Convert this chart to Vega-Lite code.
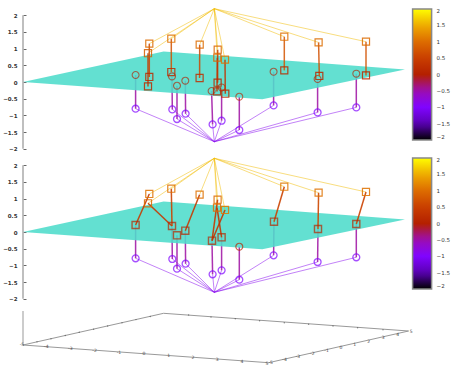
{"$schema":"https://vega.github.io/schema/vega-lite/v6.json","background":"white","padding":{"left":2,"top":7,"right":0,"bottom":0},"spacing":0,"resolve":{"scale":{"color":"independent"},"legend":{"color":"independent"}},"config":{"view":{"stroke":null},"axis":{"labelFont":"DejaVu Sans"},"legend":{"labelFont":"DejaVu Sans"}},
"datasets":{
"mesh":[{"x":22.7,"hi":0,"lo":0},{"x":163.3,"hi":0.916,"lo":-0.306},{"x":262,"hi":0.696,"lo":-0.52},{"x":404.7,"hi":0.377,"lo":0.377}],
"top":[
{"kind":"axis","x":22.7,"y":2,"x2":22.7,"y2":-2,"c":0},
{"kind":"apexT","x":214,"y":2.195,"x2":149,"y2":1.147,"c":1.6},{"kind":"apexT","x":214,"y":2.195,"x2":147.7,"y2":0.862,"c":1.6},{"kind":"apexT","x":214,"y":2.195,"x2":171,"y2":1.296,"c":1.6},{"kind":"apexT","x":214,"y":2.195,"x2":199.4,"y2":1.117,"c":1.6},{"kind":"apexT","x":214,"y":2.195,"x2":217.4,"y2":0.967,"c":1.6},{"kind":"apexT","x":214,"y":2.195,"x2":217,"y2":0.728,"c":1.6},{"kind":"apexT","x":214,"y":2.195,"x2":224.7,"y2":0.668,"c":1.6},{"kind":"apexT","x":214,"y":2.195,"x2":284,"y2":1.356,"c":1.6},{"kind":"apexT","x":214,"y":2.195,"x2":318.3,"y2":1.186,"c":1.6},{"kind":"apexT","x":214,"y":2.195,"x2":365.7,"y2":1.207,"c":1.6},
{"kind":"apexB","x":214,"y":-1.787,"x2":135.3,"y2":-0.799,"c":-0.9},{"kind":"apexB","x":214,"y":-1.787,"x2":172,"y2":-0.82,"c":-0.9},{"kind":"apexB","x":214,"y":-1.787,"x2":176.7,"y2":-1.108,"c":-0.9},{"kind":"apexB","x":214,"y":-1.787,"x2":185.3,"y2":-0.949,"c":-0.9},{"kind":"apexB","x":214,"y":-1.787,"x2":212.3,"y2":-1.269,"c":-0.9},{"kind":"apexB","x":214,"y":-1.787,"x2":221.3,"y2":-1.159,"c":-0.9},{"kind":"apexB","x":214,"y":-1.787,"x2":239,"y2":-1.437,"c":-0.9},{"kind":"apexB","x":214,"y":-1.787,"x2":273.3,"y2":-0.701,"c":-0.9},{"kind":"apexB","x":214,"y":-1.787,"x2":317.3,"y2":-0.91,"c":-0.9},{"kind":"apexB","x":214,"y":-1.787,"x2":356,"y2":-0.76,"c":-0.9},
{"kind":"stemU","x":149,"y":1.147,"x2":149,"y2":0.15,"c":0.55},{"kind":"stemU","x":147.7,"y":0.862,"x2":147.7,"y2":-0.132,"c":0.4},{"kind":"stemU","x":171,"y":1.296,"x2":171,"y2":0.299,"c":0.7},{"kind":"stemU","x":199.4,"y":1.117,"x2":199.3,"y2":0.12,"c":0.6},{"kind":"stemU","x":217.4,"y":0.967,"x2":217.3,"y2":-0.021,"c":0.45},{"kind":"stemU","x":217,"y":0.728,"x2":216.7,"y2":-0.281,"c":0.3},{"kind":"stemU","x":224.7,"y":0.668,"x2":225,"y2":-0.35,"c":0.3},{"kind":"stemU","x":284,"y":1.356,"x2":284,"y2":0.347,"c":0.75},{"kind":"stemU","x":318.3,"y":1.186,"x2":319,"y2":0.18,"c":0.7},{"kind":"stemU","x":365.7,"y":1.207,"x2":365.7,"y2":0.198,"c":0.7},
{"kind":"stemL","x":135.3,"y":0.21,"x2":135.3,"y2":-0.799,"c":-0.45},{"kind":"stemL","x":171.7,"y":0.168,"x2":172,"y2":-0.82,"c":-0.45},{"kind":"stemL","x":176.7,"y":-0.111,"x2":176.7,"y2":-1.108,"c":-0.45},{"kind":"stemL","x":185,"y":0.039,"x2":185.3,"y2":-0.949,"c":-0.45},{"kind":"stemL","x":211.3,"y":-0.269,"x2":212.3,"y2":-1.269,"c":-0.45},{"kind":"stemL","x":221.3,"y":-0.162,"x2":221.3,"y2":-1.159,"c":-0.45},{"kind":"stemL","x":239,"y":-0.44,"x2":239,"y2":-1.437,"c":-0.45},{"kind":"stemL","x":273.3,"y":0.308,"x2":273.3,"y2":-0.701,"c":-0.45},{"kind":"stemL","x":317.3,"y":0.09,"x2":317.3,"y2":-0.91,"c":-0.45},{"kind":"stemL","x":356,"y":0.249,"x2":356,"y2":-0.76,"c":-0.45},
{"kind":"sqU","x":149,"y":1.147,"c":1},{"kind":"sqU","x":147.7,"y":0.862,"c":0.85},{"kind":"sqU","x":171,"y":1.296,"c":1.05},{"kind":"sqU","x":199.4,"y":1.117,"c":1},{"kind":"sqU","x":217.4,"y":0.967,"c":0.95},{"kind":"sqU","x":217,"y":0.728,"c":0.95},{"kind":"sqU","x":224.7,"y":0.668,"c":1.05},{"kind":"sqU","x":284,"y":1.356,"c":1.05},{"kind":"sqU","x":318.3,"y":1.186,"c":1},{"kind":"sqU","x":365.7,"y":1.207,"c":1},
{"kind":"sqL","x":149,"y":0.15,"c":0.2},{"kind":"sqL","x":147.7,"y":-0.132,"c":0.2},{"kind":"sqL","x":171,"y":0.299,"c":0.2},{"kind":"sqL","x":199.3,"y":0.12,"c":0.25},{"kind":"sqL","x":217.3,"y":-0.021,"c":0.15},{"kind":"sqL","x":216.7,"y":-0.281,"c":0.15},{"kind":"sqL","x":225,"y":-0.35,"c":0.2},{"kind":"sqL","x":284,"y":0.347,"c":0.2},{"kind":"sqL","x":319,"y":0.18,"c":0.15},{"kind":"sqL","x":365.7,"y":0.198,"c":0.15},
{"kind":"circU","x":135.3,"y":0.21,"c":0},{"kind":"circU","x":171.7,"y":0.168,"c":0},{"kind":"circU","x":176.7,"y":-0.111,"c":0},{"kind":"circU","x":185,"y":0.039,"c":0},{"kind":"circU","x":211.3,"y":-0.269,"c":0},{"kind":"circU","x":221.3,"y":-0.162,"c":0},{"kind":"circU","x":239,"y":-0.44,"c":0.1},{"kind":"circU","x":273.3,"y":0.308,"c":0},{"kind":"circU","x":317.3,"y":0.09,"c":0},{"kind":"circU","x":356,"y":0.249,"c":0},
{"kind":"circL","x":135.3,"y":-0.799,"c":-1},{"kind":"circL","x":172,"y":-0.82,"c":-1},{"kind":"circL","x":176.7,"y":-1.108,"c":-1},{"kind":"circL","x":185.3,"y":-0.949,"c":-1},{"kind":"circL","x":212.3,"y":-1.269,"c":-1},{"kind":"circL","x":221.3,"y":-1.159,"c":-1},{"kind":"circL","x":239,"y":-1.437,"c":-1},{"kind":"circL","x":273.3,"y":-0.701,"c":-1},{"kind":"circL","x":317.3,"y":-0.91,"c":-1},{"kind":"circL","x":356,"y":-0.76,"c":-1}
],
"bottom":[
{"kind":"axis","x":22.7,"y":2,"x2":22.7,"y2":-2,"c":0},
{"kind":"apexT","x":214,"y":2.207,"x2":149,"y2":1.138,"c":1.6},{"kind":"apexT","x":214,"y":2.207,"x2":147.7,"y2":0.859,"c":1.6},{"kind":"apexT","x":214,"y":2.207,"x2":171,"y2":1.296,"c":1.6},{"kind":"apexT","x":214,"y":2.207,"x2":199.3,"y2":1.117,"c":1.6},{"kind":"apexT","x":214,"y":2.207,"x2":217.3,"y2":0.967,"c":1.6},{"kind":"apexT","x":214,"y":2.207,"x2":216.7,"y2":0.728,"c":1.6},{"kind":"apexT","x":214,"y":2.207,"x2":224.7,"y2":0.659,"c":1.6},{"kind":"apexT","x":214,"y":2.207,"x2":284,"y2":1.356,"c":1.6},{"kind":"apexT","x":214,"y":2.207,"x2":318.3,"y2":1.177,"c":1.6},{"kind":"apexT","x":214,"y":2.207,"x2":365.7,"y2":1.198,"c":1.6},
{"kind":"apexB","x":214,"y":-1.805,"x2":135.3,"y2":-0.787,"c":-0.9},{"kind":"apexB","x":214,"y":-1.805,"x2":172,"y2":-0.808,"c":-0.9},{"kind":"apexB","x":214,"y":-1.805,"x2":176.7,"y2":-1.099,"c":-0.9},{"kind":"apexB","x":214,"y":-1.805,"x2":185.3,"y2":-0.949,"c":-0.9},{"kind":"apexB","x":214,"y":-1.805,"x2":212.3,"y2":-1.266,"c":-0.9},{"kind":"apexB","x":214,"y":-1.805,"x2":221.3,"y2":-1.147,"c":-0.9},{"kind":"apexB","x":214,"y":-1.805,"x2":239,"y2":-1.428,"c":-0.9},{"kind":"apexB","x":214,"y":-1.805,"x2":273.3,"y2":-0.698,"c":-0.9},{"kind":"apexB","x":214,"y":-1.805,"x2":317.3,"y2":-0.898,"c":-0.9},{"kind":"apexB","x":214,"y":-1.805,"x2":356,"y2":-0.757,"c":-0.9},
{"kind":"stemU","x":149,"y":1.138,"x2":135.3,"y2":0.21,"c":0.45},{"kind":"stemU","x":147.7,"y":0.859,"x2":171.7,"y2":0.18,"c":0.4},{"kind":"stemU","x":171,"y":1.296,"x2":171.7,"y2":0.18,"c":0.55},{"kind":"stemU","x":199.3,"y":1.117,"x2":185,"y2":0.039,"c":0.45},{"kind":"stemU","x":217.3,"y":0.967,"x2":211.7,"y2":-0.26,"c":0.4},{"kind":"stemU","x":216.7,"y":0.728,"x2":221.3,"y2":-0.159,"c":0.35},{"kind":"stemU","x":224.7,"y":0.659,"x2":211.7,"y2":-0.26,"c":0.35},{"kind":"stemU","x":284,"y":1.356,"x2":273.7,"y2":0.308,"c":0.55},{"kind":"stemU","x":318.3,"y":1.177,"x2":317.7,"y2":0.09,"c":0.6},{"kind":"stemU","x":365.7,"y":1.198,"x2":356,"y2":0.24,"c":0.55},
{"kind":"stemL","x":135.3,"y":0.21,"x2":135.3,"y2":-0.787,"c":-0.45},{"kind":"stemL","x":171.7,"y":0.18,"x2":172,"y2":-0.808,"c":-0.45},{"kind":"stemL","x":176.7,"y":-0.099,"x2":176.7,"y2":-1.099,"c":-0.45},{"kind":"stemL","x":185,"y":0.039,"x2":185.3,"y2":-0.949,"c":-0.45},{"kind":"stemL","x":211.7,"y":-0.26,"x2":212.3,"y2":-1.266,"c":-0.45},{"kind":"stemL","x":221.3,"y":-0.159,"x2":221.3,"y2":-1.147,"c":-0.45},{"kind":"stemL","x":239,"y":-0.44,"x2":239,"y2":-1.428,"c":-0.45},{"kind":"stemL","x":273.7,"y":0.308,"x2":273.3,"y2":-0.698,"c":-0.45},{"kind":"stemL","x":317.7,"y":0.09,"x2":317.3,"y2":-0.898,"c":-0.45},{"kind":"stemL","x":356,"y":0.24,"x2":356,"y2":-0.757,"c":-0.45},
{"kind":"sqU","x":149,"y":1.138,"c":1.05},{"kind":"sqU","x":147.7,"y":0.859,"c":0.95},{"kind":"sqU","x":171,"y":1.296,"c":1.05},{"kind":"sqU","x":199.3,"y":1.117,"c":1.05},{"kind":"sqU","x":217.3,"y":0.967,"c":1},{"kind":"sqU","x":216.7,"y":0.728,"c":1},{"kind":"sqU","x":224.7,"y":0.659,"c":1.1},{"kind":"sqU","x":284,"y":1.356,"c":1.1},{"kind":"sqU","x":318.3,"y":1.177,"c":1.05},{"kind":"sqU","x":365.7,"y":1.198,"c":1.05},
{"kind":"sqL","x":135.3,"y":0.21,"c":0.1},{"kind":"sqL","x":171.7,"y":0.18,"c":0.1},{"kind":"sqL","x":176.7,"y":-0.099,"c":0.1},{"kind":"sqL","x":185,"y":0.039,"c":0.1},{"kind":"sqL","x":211.7,"y":-0.26,"c":0.1},{"kind":"sqL","x":221.3,"y":-0.159,"c":0.1},{"kind":"sqL","x":273.7,"y":0.308,"c":0.1},{"kind":"sqL","x":317.7,"y":0.09,"c":0.1},{"kind":"sqL","x":356,"y":0.24,"c":0.1},
{"kind":"circU","x":239,"y":-0.44,"c":0.1},
{"kind":"circL","x":135.3,"y":-0.787,"c":-1},{"kind":"circL","x":172,"y":-0.808,"c":-1},{"kind":"circL","x":176.7,"y":-1.099,"c":-1},{"kind":"circL","x":185.3,"y":-0.949,"c":-1},{"kind":"circL","x":212.3,"y":-1.266,"c":-1},{"kind":"circL","x":221.3,"y":-1.147,"c":-1},{"kind":"circL","x":239,"y":-1.428,"c":-1},{"kind":"circL","x":273.3,"y":-0.698,"c":-1},{"kind":"circL","x":317.3,"y":-0.898,"c":-1},{"kind":"circL","x":356,"y":-0.757,"c":-1}
],
"base":[
{"kind":"edge","x":22.7,"y":-2.365,"x2":22.7,"y2":-3.383},
{"kind":"edge","x":22.7,"y":-3.383,"x2":163.3,"y2":-2.434},{"kind":"edge","x":163.3,"y":-2.434,"x2":408.3,"y2":-2.964},{"kind":"edge","x":408.3,"y":-2.964,"x2":268.3,"y2":-3.913},{"kind":"edge","x":268.3,"y":-3.913,"x2":22.7,"y2":-3.383}
],
"baseTicks":[
{"x":36.7,"y":-3.287},{"x":50.7,"y":-3.194},{"x":65,"y":-3.099},{"x":79,"y":-3.003},{"x":93.3,"y":-2.91},{"x":107.3,"y":-2.814},{"x":121.7,"y":-2.719},{"x":135.7,"y":-2.623},{"x":150,"y":-2.53},
{"x":188.3,"y":-2.485},{"x":210.7,"y":-2.545},{"x":235,"y":-2.596},{"x":259.3,"y":-2.656},{"x":284,"y":-2.716},{"x":308.3,"y":-2.763},{"x":332.7,"y":-2.814},{"x":357.3,"y":-2.865},{"x":382.7,"y":-2.925}
],
"baseLabels":[
{"x":21.7,"y":-3.383,"t":"-5"},{"x":46,"y":-3.452,"t":"-4"},{"x":70,"y":-3.503,"t":"-3"},{"x":94.3,"y":-3.563,"t":"-2"},{"x":118.7,"y":-3.614,"t":"-1"},{"x":143.7,"y":-3.662,"t":"0"},{"x":168.3,"y":-3.722,"t":"1"},{"x":192.7,"y":-3.772,"t":"2"},{"x":217,"y":-3.832,"t":"3"},{"x":241.7,"y":-3.883,"t":"4"},{"x":266.7,"y":-3.943,"t":"5"},
{"x":270.3,"y":-3.931,"t":"-5"},{"x":284.3,"y":-3.832,"t":"-4"},{"x":297.7,"y":-3.733,"t":"-3"},{"x":312,"y":-3.644,"t":"-2"},{"x":326.3,"y":-3.554,"t":"-1"},{"x":340.7,"y":-3.464,"t":"0"},{"x":354.3,"y":-3.374,"t":"1"},{"x":368.3,"y":-3.284,"t":"2"},{"x":383,"y":-3.183,"t":"3"},{"x":397.3,"y":-3.084,"t":"4"},{"x":411,"y":-2.985,"t":"5"}
]
},
"vconcat":[
{"width":388,"height":150,"data":{"name":"top"},
"encoding":{"x":{"field":"x","type":"quantitative","scale":{"domain":[22.7,410.7]},"axis":null},"y":{"field":"y","type":"quantitative","scale":{"domain":[-2.245,2.245]},"axis":{"title":null,"domain":false,"grid":false,"values":[-2,-1.5,-1,-0.5,0,0.5,1,1.5,2],"format":"~g","tickSize":-3,"tickColor":"#666","labelFontSize":5.5,"labelFontWeight":"bold","labelColor":"#333","labelPadding":9}},"color":{"field":"c","type":"quantitative","scale":{"domain":[-2,2],"interpolate":"rgb","range":["#000000","#5a00b4","#8004ff","#9c0db4","#b42000","#c93e00","#dd6c00","#eeab00","#ffff00"]},"legend":{"title":null,"orient":"none","legendX":389.6,"legendY":2,"direction":"vertical","gradientLength":131,"gradientThickness":19,"gradientOpacity":1,"gradientStrokeColor":"#888","gradientStrokeWidth":1.5,"values":[-2,-1.5,-1,-0.5,0,0.5,1,1.5,2],"format":"~g","labelFontSize":5.5,"labelColor":"#333","labelOffset":5,"labelOpacity":1}}},
"layer":[
{"transform":[{"filter":"datum.kind=='axis'"}],"mark":{"type":"rule","strokeWidth":1.5,"color":"#aaaaaa"},"encoding":{"x2":{"field":"x2"},"y2":{"field":"y2"},"color":{"value":"#aaaaaa"}}},
{"transform":[{"filter":"datum.kind=='stemL'"}],"mark":{"type":"rule","strokeWidth":1.5,"opacity":0.85},"encoding":{"x2":{"field":"x2"},"y2":{"field":"y2"}}},
{"data":{"name":"mesh"},"mark":{"type":"area","orient":"vertical","opacity":0.88,"color":"#4ddccb"},"encoding":{"y":{"field":"hi","type":"quantitative"},"y2":{"field":"lo"},"color":{"value":"#4ddccb"}}},
{"transform":[{"filter":"datum.kind=='circU'"}],"mark":{"type":"point","shape":"circle","filled":false,"size":48,"strokeWidth":1.1,"opacity":0.65}},
{"transform":[{"filter":"datum.kind=='apexT'"}],"mark":{"type":"rule","strokeWidth":1,"opacity":0.5},"encoding":{"x2":{"field":"x2"},"y2":{"field":"y2"}}},
{"transform":[{"filter":"datum.kind=='apexB'"}],"mark":{"type":"rule","strokeWidth":1,"opacity":0.5},"encoding":{"x2":{"field":"x2"},"y2":{"field":"y2"}}},
{"transform":[{"filter":"datum.kind=='stemU'"}],"mark":{"type":"rule","strokeWidth":1.5,"opacity":0.85},"encoding":{"x2":{"field":"x2"},"y2":{"field":"y2"}}},
{"transform":[{"filter":"datum.kind=='sqU'"}],"mark":{"type":"point","shape":"square","filled":false,"size":50,"strokeWidth":1.2,"opacity":0.85}},
{"transform":[{"filter":"datum.kind=='sqL'"}],"mark":{"type":"point","shape":"square","filled":false,"size":50,"strokeWidth":1.2,"opacity":0.85}},
{"transform":[{"filter":"datum.kind=='circL'"}],"mark":{"type":"point","shape":"circle","filled":false,"size":48,"strokeWidth":1.3}}
]},
{"width":388,"height":150,"data":{"name":"bottom"},
"encoding":{"x":{"field":"x","type":"quantitative","scale":{"domain":[22.7,410.7]},"axis":null},"y":{"field":"y","type":"quantitative","scale":{"domain":[-2.245,2.245]},"axis":{"title":null,"domain":false,"grid":false,"values":[-2,-1.5,-1,-0.5,0,0.5,1,1.5,2],"format":"~g","tickSize":-3,"tickColor":"#666","labelFontSize":5.5,"labelFontWeight":"bold","labelColor":"#333","labelPadding":9}},"color":{"field":"c","type":"quantitative","scale":{"domain":[-2,2],"interpolate":"rgb","range":["#000000","#5a00b4","#8004ff","#9c0db4","#b42000","#c93e00","#dd6c00","#eeab00","#ffff00"]},"legend":{"title":null,"orient":"none","legendX":389.6,"legendY":1,"direction":"vertical","gradientLength":131,"gradientThickness":19,"gradientOpacity":1,"gradientStrokeColor":"#888","gradientStrokeWidth":1.5,"values":[-2,-1.5,-1,-0.5,0,0.5,1,1.5,2],"format":"~g","labelFontSize":5.5,"labelColor":"#333","labelOffset":5,"labelOpacity":1}}},
"layer":[
{"transform":[{"filter":"datum.kind=='axis'"}],"mark":{"type":"rule","strokeWidth":1.5,"color":"#aaaaaa"},"encoding":{"x2":{"field":"x2"},"y2":{"field":"y2"},"color":{"value":"#aaaaaa"}}},
{"transform":[{"filter":"datum.kind=='stemL'"}],"mark":{"type":"rule","strokeWidth":1.5,"opacity":0.85},"encoding":{"x2":{"field":"x2"},"y2":{"field":"y2"}}},
{"data":{"name":"mesh"},"mark":{"type":"area","orient":"vertical","opacity":0.88,"color":"#4ddccb"},"encoding":{"y":{"field":"hi","type":"quantitative"},"y2":{"field":"lo"},"color":{"value":"#4ddccb"}}},
{"transform":[{"filter":"datum.kind=='circU'"}],"mark":{"type":"point","shape":"circle","filled":false,"size":48,"strokeWidth":1.2}},
{"transform":[{"filter":"datum.kind=='apexT'"}],"mark":{"type":"rule","strokeWidth":1,"opacity":0.5},"encoding":{"x2":{"field":"x2"},"y2":{"field":"y2"}}},
{"transform":[{"filter":"datum.kind=='apexB'"}],"mark":{"type":"rule","strokeWidth":1,"opacity":0.5},"encoding":{"x2":{"field":"x2"},"y2":{"field":"y2"}}},
{"transform":[{"filter":"datum.kind=='stemU'"}],"mark":{"type":"rule","strokeWidth":1.5,"opacity":0.9},"encoding":{"x2":{"field":"x2"},"y2":{"field":"y2"}}},
{"transform":[{"filter":"datum.kind=='sqU'"}],"mark":{"type":"point","shape":"square","filled":false,"size":50,"strokeWidth":1.2,"opacity":0.85}},
{"transform":[{"filter":"datum.kind=='sqL'"}],"mark":{"type":"point","shape":"square","filled":false,"size":50,"strokeWidth":1.4}},
{"transform":[{"filter":"datum.kind=='circL'"}],"mark":{"type":"point","shape":"circle","filled":false,"size":48,"strokeWidth":1.3}}
]},
{"width":388,"height":68,
"encoding":{"x":{"field":"x","type":"quantitative","scale":{"domain":[22.7,410.7]},"axis":null},"y":{"field":"y","type":"quantitative","scale":{"domain":[-4.281,-2.245]},"axis":{"title":null,"domain":false,"ticks":false,"labels":false,"grid":false}}},
"layer":[
{"data":{"name":"base"},"mark":{"type":"rule","strokeWidth":1,"color":"#999999"},"encoding":{"x2":{"field":"x2"},"y2":{"field":"y2"}}},
{"data":{"name":"baseTicks"},"mark":{"type":"point","filled":true,"size":2,"color":"#555555"}},
{"data":{"name":"baseLabels"},"mark":{"type":"text","font":"DejaVu Sans","fontSize":4.5,"color":"#444444"},"encoding":{"text":{"field":"t"}}}
]}
]}
